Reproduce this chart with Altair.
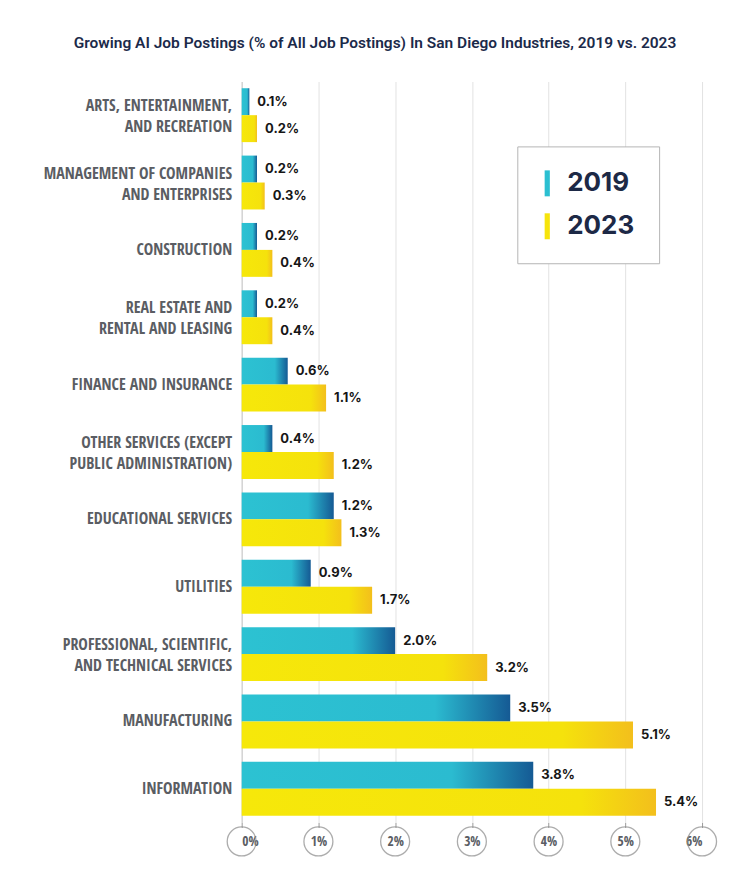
import altair as alt
import pandas as pd

categories = [
    "ARTS, ENTERTAINMENT,|AND RECREATION",
    "MANAGEMENT OF COMPANIES|AND ENTERPRISES",
    "CONSTRUCTION",
    "REAL ESTATE AND|RENTAL AND LEASING",
    "FINANCE AND INSURANCE",
    "OTHER SERVICES (EXCEPT|PUBLIC ADMINISTRATION)",
    "EDUCATIONAL SERVICES",
    "UTILITIES",
    "PROFESSIONAL, SCIENTIFIC,|AND TECHNICAL SERVICES",
    "MANUFACTURING",
    "INFORMATION",
]
values_2019 = [0.1, 0.2, 0.2, 0.2, 0.6, 0.4, 1.2, 0.9, 2.0, 3.5, 3.8]
values_2023 = [0.2, 0.3, 0.4, 0.4, 1.1, 1.2, 1.3, 1.7, 3.2, 5.1, 5.4]
years = ["2019", "2023"]
ticks = [0, 1, 2, 3, 4, 5, 6]

rows = []
for c, a, b in zip(categories, values_2019, values_2023):
    rows.append({"category": c, "year": "2019", "value": a})
    rows.append({"category": c, "year": "2023", "value": b})
df = pd.DataFrame(rows)
tick_df = pd.DataFrame({"tick": ticks})

W, H = 461, 742
LABEL_FONT = "Noto Sans ExtraCondensed, Noto Sans Condensed, Open Sans Condensed, Roboto Condensed, Roboto, sans-serif"

x_enc = alt.X(
    "value:Q",
    scale=alt.Scale(domain=[0, 6], nice=False),
    axis=alt.Axis(
        values=ticks, title=None, domain=False, grid=True, gridColor="#e2e2e2",
        tickColor="#9a9a9a", tickSize=5, labelExpr="datum.value + '%'",
        labelFont=LABEL_FONT, labelFontWeight="bold", labelFontSize=13.5,
        labelColor="#5a5d63", labelBaseline="middle", labelPadding=14,
    ),
)
y_enc = alt.Y(
    "category:N", sort=categories,
    scale=alt.Scale(paddingInner=0.2, paddingOuter=0.1),
    axis=alt.Axis(
        title=None, ticks=False, domainColor="#c9c9c9", labelPadding=10,
        labelExpr="split(datum.label, '|')", labelFont=LABEL_FONT,
        labelFontWeight="bold", labelFontSize=16, labelColor="#5a5d63",
        labelLineHeight=21, labelLimit=400, labelBaseline="middle",
        labelOffset={"condition": {"test": "indexof(datum.value, '|') >= 0", "value": -9},
                     "value": 0},
    ),
)
yoff = alt.YOffset("year:N", scale=alt.Scale(domain=years, paddingInner=0, paddingOuter=0))

teal = alt.Gradient(
    gradient="linear", x1=0, x2=1, y1=0, y2=0,
    stops=[alt.GradientStop(offset=0, color="#2cc2d2"),
           alt.GradientStop(offset=0.72, color="#2bbbd0"),
           alt.GradientStop(offset=1, color="#155a94")],
)
yellow = alt.Gradient(
    gradient="linear", x1=0, x2=1, y1=0, y2=0,
    stops=[alt.GradientStop(offset=0, color="#f6e80a"),
           alt.GradientStop(offset=0.82, color="#f5e20c"),
           alt.GradientStop(offset=1, color="#f3bf1c")],
)

base = alt.Chart(df)
bars19 = base.transform_filter("datum.year == '2019'").mark_bar(color=teal).encode(
    x=x_enc, y=y_enc, yOffset=yoff)
bars23 = base.transform_filter("datum.year == '2023'").mark_bar(color=yellow).encode(
    x=x_enc, y=y_enc, yOffset=yoff)
labels = base.transform_calculate(
    label="format(datum.value, '.1f') + '%'"
).mark_text(align="left", baseline="middle", dx=8, fontSize=13, fontWeight="bold",
            font="Inter, Roboto, sans-serif", color="#161616").encode(
    x=x_enc, y=y_enc, yOffset=yoff, text="label:N")

legend_layer = base.mark_point(filled=True, opacity=0).encode(
    x=x_enc, y=y_enc,
    color=alt.Color(
        "year:N",
        scale=alt.Scale(domain=years, range=["#2bbfd1", "#f6e40c"]),
        legend=alt.Legend(
            title=None, orient="none", legendX=276, legendY=65,
            strokeColor="#b5b5b5", fillColor="white", padding=24,
            symbolType="M-0.74,-1H-0.34V1H-0.74Z", symbolSize=676,
            symbolOpacity=1, symbolStrokeWidth=0, labelOffset=0,
            labelFont="Inter, Roboto, sans-serif", labelFontSize=26,
            labelFontWeight="bold", labelColor="#1d2946", rowPadding=17,
        ),
    ),
)

circles = alt.Chart(tick_df).mark_point(
    shape="circle", size=841, filled=False, stroke="#8a8a8a", strokeWidth=1.3
).encode(x=alt.X("tick:Q", scale=alt.Scale(domain=[0, 6], nice=False)),
         y=alt.value(H + 19))

chart = alt.layer(bars19, bars23, labels, legend_layer, circles).properties(
    width=W, height=H,
    autosize=alt.AutoSizeParams(type="none"),
    padding={"left": 234, "top": 73, "right": 40, "bottom": 50},
    title=alt.Title(
        "Growing AI Job Postings (% of All Job Postings) In San Diego Industries, 2019 vs. 2023",
        anchor="middle", dx=-97, offset=30, fontSize=15.5, fontWeight=600,
        font="Roboto, sans-serif", color="#1b2a4a",
    ),
).configure_view(stroke=None)

chart.save("out.html", embed_options={"renderer": "svg", "actions": False})
